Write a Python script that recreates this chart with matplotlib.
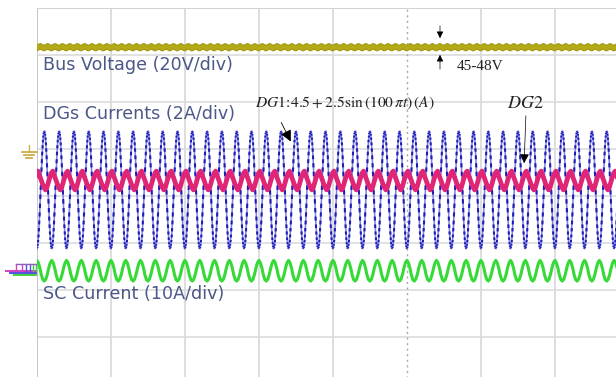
import numpy as np
import matplotlib.pyplot as plt
from matplotlib.collections import LineCollection

# scope settings: 100 ms/div horizontally, 10 x 8 divisions
ms_per_div = 100.0
trig_ms = 4.9          # trigger offset of the record (ms)

# bus voltage, 20 V/div; trace band edges over one 10 ms ripple cycle, 1 ms steps (V)
bus_ground_div = 0.84
bus_high = [48.0, 47.9, 47.7, 47.5, 47.4, 47.4, 47.5, 47.7, 47.9, 48.0]
bus_low = [45.6, 45.5, 45.3, 45.1, 45.0, 45.0, 45.1, 45.3, 45.5, 45.6]

# DG currents, 2 A/div (DG1 from its stated expression)
dg_ground_div = -2.12
dg1_mean, dg1_amp, dg1_w = 4.5, 2.5, 100 * np.pi
# DG2: one 20 ms cycle sampled every 2 ms, starting at its peak (A)
dg2_cycle = [5.30, 5.10, 4.94, 4.76, 4.60, 4.50, 4.60, 4.82, 5.04, 5.22]
dg2_first_peak_ms = 16.5

# SC current, 10 A/div; one 20 ms cycle sampled every 2 ms, starting at its peak (A)
sc_cycle = [2.5, 2.0, 0.9, -0.6, -1.6, -1.9, -1.5, -0.5, 0.9, 2.0]
sc_ground_div = -1.62
sc_first_peak_ms = 15.0

labels = ["Bus Voltage (20V/div)", "DGs Currents (2A/div)", "SC Current (10A/div)"]

W, H = 616, 377
fig = plt.figure(figsize=(W / 100, H / 100), dpi=100)
fig.patch.set_facecolor("white")
plt.rcParams["mathtext.fontset"] = "stix"
# screen spans 740 x 376 px, right part and bottom edge fall outside the image
ax = fig.add_axes([37 / W, -7 / H, 740 / W, 376 / H])
ax.set_xlim(0, 10)
ax.set_ylim(-4, 4)
ax.axis("off")


def fx(x):
    return x / W


def fy(y):
    return 1 - y / H


def to_div(t_ms):
    return (np.asarray(t_ms) + trig_ms) / ms_per_div


# graticule
for gx in range(0, 11):
    if gx == 5:
        continue
    ax.axvline(gx, color="#d8d8d8", lw=1.2, zorder=0)
for gy in range(-4, 5):
    ax.axhline(gy, color="#dcdcdc", lw=1.2, zorder=0)
ax.axvline(0, color="#c8c8c8", lw=1.4, zorder=0)
ax.axhline(4, color="#d2d2d2", lw=1.4, zorder=0)
ax.axvline(5, color="#a8a8a8", lw=1.0, ls=(0, (1.5, 2.5)), zorder=0)

# bus voltage band
hi = np.tile(bus_high, 102)
lo = np.tile(bus_low, 102)
x_bus = to_div(-10 + 1.0 * np.arange(len(hi)))
ax.fill_between(x_bus, bus_ground_div + lo / 20.0, bus_ground_div + hi / 20.0,
                color="#b4a916", lw=0.8, edgecolor="#a29810", zorder=3)

# DG1: light trace, every other 0.25 ms segment drawn darker
t_s = np.arange(-5.0, 1000.0, 0.25)
dg1 = dg1_mean + dg1_amp * np.sin(dg1_w * t_s / 1000.0)
pts = np.column_stack([to_div(t_s), dg_ground_div + dg1 / 2.0])
ax.plot(pts[:, 0], pts[:, 1], color="#8080e4", lw=1.1, zorder=2)
segs = np.stack([pts[:-1], pts[1:]], axis=1)[::2]
ax.add_collection(LineCollection(segs, colors="#1c1cb8", linewidths=1.5,
                                 capstyle="butt", zorder=2))

# DG2
dg2 = np.tile(dg2_cycle, 53)
t_dg2 = dg2_first_peak_ms - 40 + 2.0 * np.arange(len(dg2))
ax.plot(to_div(t_dg2), dg_ground_div + dg2 / 2.0, color="#e12576", lw=3.4,
        solid_joinstyle="round", zorder=4)

# SC current
sc = np.tile(sc_cycle, 53)
t_sc = sc_first_peak_ms - 40 + 2.0 * np.arange(len(sc))
ax.plot(to_div(t_sc), sc_ground_div + sc / 10.0, color="#36da36", lw=2.2,
        solid_joinstyle="round", zorder=3)

# channel labels
lab_col = "#4b5888"
for txt, y in zip(labels, [65, 114, 294]):
    fig.text(fx(43), fy(y), txt, color=lab_col, fontsize=12.6,
             family="DejaVu Sans", va="center", ha="left")

# ground markers
gcol = "#c9b04a"
fig.add_artist(plt.Line2D([fx(29), fx(29)], [fy(145), fy(152)], color=gcol, lw=1))
for y, x0, x1 in [(152, 22, 37), (155, 24, 34), (158, 26, 32)]:
    fig.add_artist(plt.Line2D([fx(x0), fx(x1)], [fy(y), fy(y)], color=gcol, lw=1.3))
for col, y, x0 in [("#d040c0", 271, 6), ("#5050e0", 273, 10), ("#40d040", 275, 14)]:
    fig.add_artist(plt.Line2D([fx(x0), fx(36)], [fy(y), fy(y)], color=col, lw=1.4))
for col, xs in [("#d040c0", [16, 22]), ("#5050e0", [26, 30]), ("#40d040", [33, 36])]:
    for x in xs:
        fig.add_artist(plt.Line2D([fx(x), fx(x)], [fy(264), fy(271)], color=col, lw=1.0))
fig.add_artist(plt.Line2D([fx(16), fx(36)], [fy(264), fy(264)], color="#9060c0", lw=1.0))

# annotations
fig.text(fx(255), fy(103), r"$\mathit{DG1}\!:\!4.5+2.5\mathrm{sin}\,(100\,\pi t)\,(A)$",
         fontsize=11.2, color="#222222", va="center", ha="left")
fig.text(fx(507), fy(103), r"$DG2$", fontsize=13, color="#222222",
         va="center", ha="left")
fig.text(fx(457), fy(67), "45-48V", fontsize=11, color="#222222",
         family="Liberation Serif", va="center", ha="left")

ax.annotate("", xy=(fx(292), fy(144)), xytext=(fx(280), fy(120)),
            xycoords="figure fraction", textcoords="figure fraction",
            arrowprops=dict(arrowstyle="-|>", color="black", lw=0.6, mutation_scale=17))
ax.annotate("", xy=(fx(524), fy(166)), xytext=(fx(526), fy(113)),
            xycoords="figure fraction", textcoords="figure fraction",
            arrowprops=dict(arrowstyle="-|>", color="black", lw=0.5, mutation_scale=14))
small = dict(arrowstyle="-|>", color="black", lw=0.5, mutation_scale=10)
ax.annotate("", xy=(fx(440), fy(41)), xytext=(fx(440), fy(23)),
            xycoords="figure fraction", textcoords="figure fraction", arrowprops=small)
ax.annotate("", xy=(fx(440), fy(52)), xytext=(fx(440), fy(72)),
            xycoords="figure fraction", textcoords="figure fraction", arrowprops=small)

fig.savefig("out.png", dpi=100, facecolor="white")
